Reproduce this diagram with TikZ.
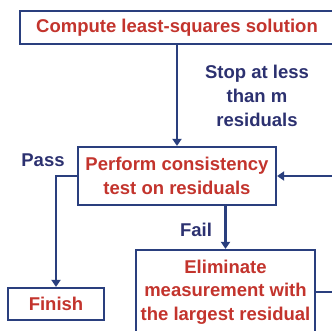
\documentclass[tikz,border=0pt]{standalone}
\usepackage{fontspec}
\setmainfont{Liberation Sans}
\usetikzlibrary{arrows.meta}
\definecolor{boxblue}{HTML}{2A3F7E}
\definecolor{boxred}{HTML}{C3342D}
\definecolor{lblblue}{HTML}{2C3170}
\tikzset{
  stepbox/.style={draw=boxblue, line width=2.2pt, fill=white, text=boxred,
    font=\bfseries\fontsize{18.5}{23.5}\selectfont, align=center, inner sep=0pt},
  lbl/.style={text=lblblue, font=\bfseries\fontsize{18.5}{24}\selectfont, align=center, inner sep=0pt},
  flow/.style={draw=boxblue, line width=2.2pt, -{Triangle[length=7pt,width=9pt]}},
}
\begin{document}
\begin{tikzpicture}[x=1pt,y=-1pt]
\useasboundingbox (0,0) rectangle (332,331);
\clip (0,0) rectangle (332,331);
\node[stepbox, minimum width=314pt, minimum height=33pt] (compute) at (177,27.5) {Compute least-squares solution};
\node[stepbox, minimum width=198pt, minimum height=58pt] (consist) at (177,176) {Perform consistency\\test on residuals};
\node[stepbox, minimum width=96pt, minimum height=32pt] (finish) at (56,304) {Finish};
\node[stepbox, minimum width=179pt, minimum height=84pt] (elim) at (225.5,292) {Eliminate\\measurement with\\the largest residual};
\coordinate (loopturn) at (345,292);
\draw[flow] (compute.south) -- (consist.north);
\draw[flow] (consist.west) -| (finish.north);
\draw[flow] (elim.north |- consist.south) -- (elim.north);
\draw[flow] (elim.east) -- (loopturn) |- (consist.east);
\node[lbl] (stoplbl) at (257,96) {Stop at less\\than m\\residuals};
\node[lbl] (passlbl) at (43,160) {Pass};
\node[lbl] (faillbl) at (196,230) {Fail};
\end{tikzpicture}
\end{document}
